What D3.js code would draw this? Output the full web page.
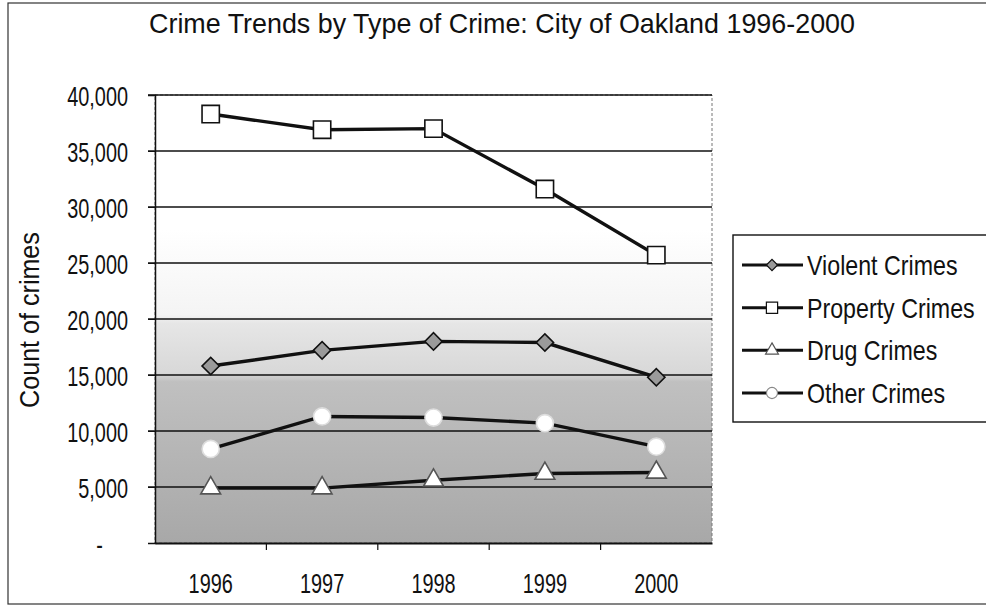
<!DOCTYPE html>
<html><head><meta charset="utf-8">
<script src="https://cdn.jsdelivr.net/npm/d3@7"></script>
<style>
html,body{margin:0;padding:0;background:#fff;}
text{font-family:"Liberation Sans",Arial,sans-serif;fill:#111;}
</style></head>
<body><svg id="c" width="986" height="607"></svg>
<script>
const years = ["1996","1997","1998","1999","2000"];
const violent = [15800, 17200, 18000, 17900, 14800];
const property = [38300, 36900, 37000, 31600, 25700];
const drug = [4900, 4900, 5600, 6200, 6300];
const other = [8400, 11300, 11200, 10700, 8600];
const yTicks = [0, 5000, 10000, 15000, 20000, 25000, 30000, 35000, 40000];
const seriesNames = ["Violent Crimes", "Property Crimes", "Drug Crimes", "Other Crimes"];
const titleText = "Crime Trends by Type of Crime: City of Oakland 1996-2000";
const yTitle = "Count of crimes";

const svg = d3.select("#c");
const P = {l:155, r:712, t:95, b:543};
const xb = d3.scaleBand().domain(years).range([P.l, P.r]).padding(0);
const xc = d => xb(d) + xb.bandwidth()/2;
const y = d3.scaleLinear().domain([0, 40000]).range([P.b, P.t]);

// horizontally condensed text (narrow typeface look), keeps text as real text
function narrow(sel, k){
  sel.each(function(){
    const t = d3.select(this);
    const x = +t.attr("x") || 0, yy = +t.attr("y") || 0;
    t.attr("x",0).attr("y",0).attr("transform",`translate(${x},${yy}) scale(${k},1)`);
  });
}

// outer border
svg.append("rect").attr("x",8).attr("y",3).attr("width",1000).attr("height",601)
  .attr("fill","none").attr("stroke","#333").attr("stroke-width",1.2);

// gradient for plot area
const defs = svg.append("defs");
const g = defs.append("linearGradient").attr("id","pg").attr("x1",0).attr("y1",0).attr("x2",0).attr("y2",1);
[[0,"#ffffff"],[0.30,"#ffffff"],[0.49,"#f4f4f4"],[0.51,"#e6e6e6"],[0.62,"#d8d8d8"],[0.64,"#c0c0c0"],[1,"#a8a8a8"]]
  .forEach(([o,c])=>g.append("stop").attr("offset",o).attr("stop-color",c));

svg.append("rect").attr("x",P.l).attr("y",P.t).attr("width",P.r-P.l).attr("height",P.b-P.t)
  .attr("fill","url(#pg)").attr("stroke","#777").attr("stroke-width",1).attr("stroke-dasharray","3,2");

// gridlines
svg.append("g").selectAll("line").data(yTicks.filter(d=>d>0)).join("line")
  .attr("x1",P.l-7).attr("x2",P.r).attr("y1",d=>y(d)).attr("y2",d=>y(d))
  .attr("stroke","#111").attr("stroke-width",1.5);

// y axis
const ya = svg.append("g").attr("transform",`translate(${P.l},0)`)
  .call(d3.axisLeft(y).tickValues(yTicks).tickSize(7).tickPadding(20)
    .tickFormat(d => d===0 ? "-" : d3.format(",")(d)));
ya.select(".domain").attr("stroke","#111").attr("stroke-width",1.5);
ya.selectAll(".tick line").attr("stroke","#111");
ya.selectAll("text").attr("font-size",28).attr("fill","#111").attr("font-family",null)
  .attr("dy","0.36em").attr("x", d => d===0 ? -52 : -27);
narrow(ya.selectAll("text"), 0.71);

// x axis
const xa = svg.append("g").attr("transform",`translate(0,${P.b})`)
  .call(d3.axisBottom(xb).tickSize(0).tickPadding(0));
xa.select(".domain").attr("stroke","#111").attr("stroke-width",1.8);
xa.selectAll("text").attr("font-size",28).attr("fill","#111").attr("font-family",null)
  .attr("dy",null).attr("y",50);
narrow(xa.selectAll("text"), 0.71);
// category boundary ticks
svg.append("g").selectAll("line").data(years.slice(1)).join("line")
  .attr("x1",d=>xb(d)).attr("x2",d=>xb(d)).attr("y1",P.b).attr("y2",P.b+7)
  .attr("stroke","#111").attr("stroke-width",1.2);

// title
svg.append("text").attr("x",502).attr("y",33).attr("text-anchor","middle")
  .attr("font-size",28).text(titleText).call(narrow, 0.96);
svg.append("text").attr("x",0).attr("y",0).attr("text-anchor","middle")
  .attr("font-size",27).attr("transform","translate(39,320) rotate(-90) scale(0.93,1)").text(yTitle);

// series
const data = [violent, property, drug, other];
const line = d3.line().x((d,i)=>xc(years[i])).y(d=>y(d));
const marker = [
  {type:d3.symbolSquare, size:150, rot:45, fill:"#9a9a9a", stroke:"#111"},
  {type:d3.symbolSquare, size:300, rot:0, fill:"#fff", stroke:"#111"},
  {type:d3.symbolTriangle, size:170, rot:0, fill:"#fff", stroke:"#555"},
  {type:d3.symbolCircle, size:230, rot:0, fill:"#fff", stroke:"#ddd"}
];
data.forEach((vals,k)=>{
  svg.append("path").datum(vals).attr("d",line).attr("fill","none")
    .attr("stroke","#111").attr("stroke-width",3.4);
  svg.append("g").selectAll("path").data(vals).join("path")
    .attr("d", d3.symbol().type(marker[k].type).size(marker[k].size))
    .attr("transform",(d,i)=>`translate(${xc(years[i])},${y(d)}) rotate(${marker[k].rot})`)
    .attr("fill",marker[k].fill).attr("stroke",marker[k].stroke).attr("stroke-width",1.6);
});

// legend
const L = {x:733, y:235, w:262, h:187};
svg.append("rect").attr("x",L.x).attr("y",L.y).attr("width",L.w).attr("height",L.h)
  .attr("fill","#fff").attr("stroke","#111").attr("stroke-width",1.4);
const ly = d3.scalePoint().domain(seriesNames).range([L.y+30, L.y+158]);
seriesNames.forEach((n,k)=>{
  const yy = ly(n);
  svg.append("line").attr("x1",L.x+9).attr("x2",L.x+70).attr("y1",yy).attr("y2",yy)
    .attr("stroke","#111").attr("stroke-width",3);
  svg.append("path").attr("d", d3.symbol().type(marker[k].type).size(marker[k].size*0.42))
    .attr("transform",`translate(${L.x+39},${yy}) rotate(${marker[k].rot})`)
    .attr("fill",marker[k].fill).attr("stroke",k===3?"#888":marker[k].stroke).attr("stroke-width",1.2);
  svg.append("text").attr("x",L.x+74).attr("y",yy+10)
    .attr("font-size",27).text(n).call(narrow, 0.86);
});
</script></body></html>
